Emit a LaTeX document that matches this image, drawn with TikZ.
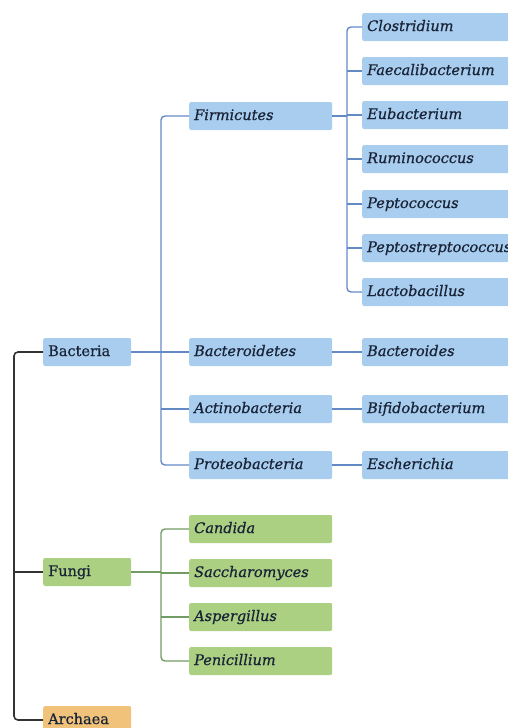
\documentclass[tikz,border=0pt]{standalone}
\usepackage{fontspec}
\setmainfont{DejaVu Serif}[FakeBold=0.6]
\usepackage{xcolor}
\usepackage{tikz}

\definecolor{bluefill}{RGB}{169,205,238}
\definecolor{blueline}{RGB}{100,138,198}
\definecolor{greenfill}{RGB}{171,208,130}
\definecolor{greenline}{RGB}{115,155,100}
\definecolor{orangefill}{RGB}{240,194,122}
\definecolor{ink}{RGB}{25,35,55}

\begin{document}
\begin{tikzpicture}[x=1pt,y=1pt,yscale=-1,
  box/.style={anchor=west,inner sep=0pt,inner xsep=5pt,minimum height=28pt,
    text height=11pt,text depth=3pt,rounded corners=2pt,text=ink,
    font=\fontsize{14.5}{16}\selectfont},
  kingdom/.style={box,text width=78pt},
  phylum/.style={box,text width=133pt,font=\fontsize{14.5}{16}\selectfont\itshape},
  genus/.style={box,text width=150pt,font=\fontsize{14.5}{16}\selectfont\itshape},
  rootline/.style={draw=black!80,line width=1.6pt,rounded corners=4pt},
  bline/.style={draw=blueline,line width=1.4pt,rounded corners=4pt},
  gline/.style={draw=greenline,line width=1.4pt,rounded corners=4pt}]
\clip (0,0) rectangle (508,728);

% Kingdoms
\node [kingdom,fill=bluefill] (bac) at (43,352) {Bacteria};
\node [kingdom,fill=greenfill] (fun) at (43,572) {Fungi};
\node [kingdom,fill=orangefill] (arc) at (43,720) {Archaea};

% Bacteria: phyla
\node [phylum,fill=bluefill] (fir) at (189,116) {Firmicutes};
\node [phylum,fill=bluefill] (bct) at (189,352) {Bacteroidetes};
\node [phylum,fill=bluefill] (act) at (189,409) {Actinobacteria};
\node [phylum,fill=bluefill] (pro) at (189,465) {Proteobacteria};

% Bacteria: genera
\node [genus,fill=bluefill] (clo) at (362,27) {Clostridium};
\node [genus,fill=bluefill] (fae) at (362,71) {Faecalibacterium};
\node [genus,fill=bluefill] (eub) at (362,115) {Eubacterium};
\node [genus,fill=bluefill] (rum) at (362,159) {Ruminococcus};
\node [genus,fill=bluefill] (pep) at (362,204) {Peptococcus};
\node [genus,fill=bluefill] (pst) at (362,248) {Peptostreptococcus};
\node [genus,fill=bluefill] (lac) at (362,292) {Lactobacillus};
\node [genus,fill=bluefill] (bdes) at (362,352) {Bacteroides};
\node [genus,fill=bluefill] (bif) at (362,409) {Bifidobacterium};
\node [genus,fill=bluefill] (esc) at (362,465) {Escherichia};

% Fungi: genera
\node [phylum,fill=greenfill] (can) at (189,529) {Candida};
\node [phylum,fill=greenfill] (sac) at (189,573) {Saccharomyces};
\node [phylum,fill=greenfill] (asp) at (189,617) {Aspergillus};
\node [phylum,fill=greenfill] (pen) at (189,661) {Penicillium};

% spines
\coordinate (rs) at (14,352);
\coordinate (bs) at (161,352);
\coordinate (fs) at (347,116);
\coordinate (gs) at (161,572);

% root
\draw [rootline] (bac.west) -- (bac.west -| rs) -- (arc.west -| rs) -- (arc.west);
\draw [rootline] (fun.west -| rs) -- (fun.west);

% Bacteria
\draw [bline] (bac.east) -- (bs);
\draw [bline] (fir.west) -- (fir.west -| bs) -- (pro.west -| bs) -- (pro.west);
\draw [bline] (bct.west -| bs) -- (bct.west);
\draw [bline] (act.west -| bs) -- (act.west);
\draw [bline] (fir.east) -- (fs);
\draw [bline] (clo.west) -- (clo.west -| fs) -- (lac.west -| fs) -- (lac.west);
\foreach \g in {fae,eub,rum,pep,pst}
  \draw [bline] (\g.west -| fs) -- (\g.west);
\draw [bline] (bct.east) -- (bdes.west);
\draw [bline] (act.east) -- (bif.west);
\draw [bline] (pro.east) -- (esc.west);

% Fungi
\draw [gline] (fun.east) -- (gs);
\draw [gline] (can.west) -- (can.west -| gs) -- (pen.west -| gs) -- (pen.west);
\draw [gline] (sac.west -| gs) -- (sac.west);
\draw [gline] (asp.west -| gs) -- (asp.west);

\end{tikzpicture}
\end{document}
